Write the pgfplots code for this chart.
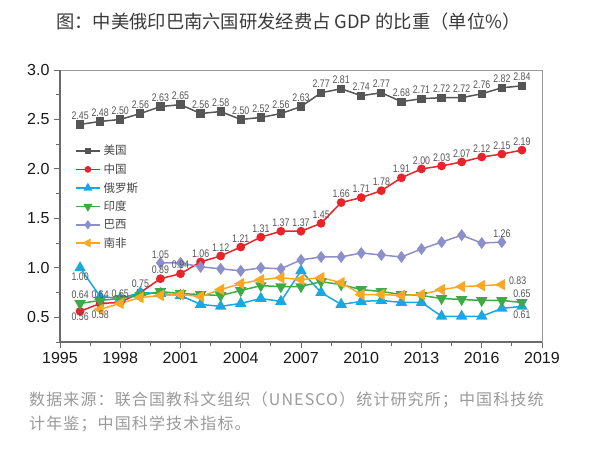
\documentclass[border=0pt]{standalone}
\usepackage{fontspec}
\usepackage{pgfplots}
\pgfplotsset{compat=1.18}
\setmainfont{Liberation Sans}
\newfontfamily\cjk{Noto Sans CJK SC}
\newfontfamily\cjknote[LetterSpace=7]{Noto Sans CJK SC}
\newfontfamily\labfontfam[FakeStretch=0.8]{Liberation Sans}
\definecolor{usgray}{HTML}{555555}
\definecolor{chred}{HTML}{E8232A}
\definecolor{rublue}{HTML}{1AA8E3}
\definecolor{ingreen}{HTML}{3DAA48}
\definecolor{brpurple}{HTML}{8C8FC9}
\definecolor{saorange}{HTML}{F8A824}
\definecolor{labgray}{HTML}{555555}
\definecolor{axisdark}{HTML}{6A6A6A}
\definecolor{axislight}{HTML}{9A9A9A}
\definecolor{titlegray}{HTML}{3A3A3A}
\definecolor{notegray}{HTML}{9A9A9A}
\pgfplotsset{
  lab/.style={point meta=y, nodes near coords,
    nodes near coords style={font=\labfontfam\fontsize{11}{12}\selectfont, text=labgray, inner sep=0.5pt, anchor=south, yshift=3.5pt,
      /pgf/number format/fixed, /pgf/number format/fixed zerofill, /pgf/number format/precision=2, /pgf/number format/assume math mode=true}},
  labbelow/.style={lab, nodes near coords style={anchor=north, yshift=-4pt}},
}
\begin{document}
\begin{tikzpicture}
\useasboundingbox (0pt,0pt) rectangle (600pt,459pt);
\fill[white] (0pt,0pt) rectangle (600pt,459pt);
\node[anchor=west, text=titlegray, font=\cjk\fontsize{18.3}{21}\selectfont, inner sep=0pt] at (56pt,437pt) {图：中美俄印巴南六国研发经费占 GDP 的比重（单位\%）};
\node[anchor=west, text=notegray, font=\cjknote\fontsize{16}{18}\selectfont, inner sep=0pt] at (29pt,59pt) {数据来源：联合国教科文组织（UNESCO）统计研究所；中国科技统};
\node[anchor=west, text=notegray, font=\cjknote\fontsize{16}{18}\selectfont, inner sep=0pt] at (29pt,35pt) {计年鉴；中国科学技术指标。};
\begin{axis}[
  at={(60pt,117pt)}, anchor=south west,
  scale only axis, width=482pt, height=272pt,
  xmin=1995, xmax=2019, ymin=0.25, ymax=3.0,
  xtick={1995,1998,2001,2004,2007,2010,2013,2016,2019},
  xticklabels={1995,1998,2001,2004,2007,2010,2013,2016,2019},
  minor xtick={1996.5,1999.5,2002.5,2005.5,2008.5,2011.5,2014.5,2017.5},
  ytick={0.5,1,1.5,2,2.5,3},
  yticklabels={0.5,1.0,1.5,2.0,2.5,3.0},
  minor ytick={0.25,0.75,1.25,1.75,2.25,2.75},
  tick align=outside, tick pos=left,
  major tick length=6pt, minor tick length=4pt,
  tick style={axisdark, line width=0.9pt},
  axis line style={axislight, line width=0.9pt},
  tick label style={font=\fontsize{16}{18}\selectfont, text=black!90},
  xticklabel style={yshift=-1pt},
  yticklabel style={xshift=-1pt},
  clip=false,
  every axis plot/.append style={line width=1.5pt},
  legend style={at={(rel axis cs:0.031,0.728)}, anchor=north west, draw=none, fill=none,
    font=\cjk\fontsize{11.5}{13}\selectfont, text=black!72, row sep=5.4pt, inner sep=0pt,
    nodes={inner xsep=3pt, inner ysep=1pt}},
  legend cell align=left,
  legend image code/.code={\draw[#1, mark repeat=2, mark phase=2, line width=1.5pt, every mark/.append style={scale=0.72}] plot coordinates {(0pt,0pt) (12pt,0pt) (24pt,0pt)};},
]
\addplot[usgray, mark=square*, mark size=3.4pt, mark options={solid, fill=usgray}] coordinates {
(1996,2.45)(1997,2.48)(1998,2.50)(1999,2.56)(2000,2.63)(2001,2.65)(2002,2.56)(2003,2.58)(2004,2.50)(2005,2.52)(2006,2.56)(2007,2.63)(2008,2.77)(2009,2.81)(2010,2.74)(2011,2.77)(2012,2.68)(2013,2.71)(2014,2.72)(2015,2.72)(2016,2.76)(2017,2.82)(2018,2.84)};
\addlegendentry{美国}
\addplot[chred, mark=*, mark size=3.6pt, mark options={solid, fill=chred}] coordinates {
(1996,0.56)(1997,0.64)(1998,0.65)(1999,0.75)(2000,0.89)(2001,0.94)(2002,1.06)(2003,1.12)(2004,1.21)(2005,1.31)(2006,1.37)(2007,1.37)(2008,1.45)(2009,1.66)(2010,1.71)(2011,1.78)(2012,1.91)(2013,2.00)(2014,2.03)(2015,2.07)(2016,2.12)(2017,2.15)(2018,2.19)};
\addlegendentry{中国}
\addplot[rublue, mark=triangle*, mark size=5.2pt, mark options={solid, fill=rublue}] coordinates {
(1996,1.00)(1997,0.71)(1998,0.69)(1999,0.75)(2000,0.74)(2001,0.72)(2002,0.63)(2003,0.61)(2004,0.64)(2005,0.69)(2006,0.66)(2007,0.97)(2008,0.75)(2009,0.63)(2010,0.66)(2011,0.67)(2012,0.65)(2013,0.65)(2014,0.51)(2015,0.51)(2016,0.51)(2017,0.59)(2018,0.61)};
\addlegendentry{俄罗斯}
\addplot[ingreen, mark=triangle*, mark size=5.2pt, mark options={solid, fill=ingreen, rotate=180}] coordinates {
(1996,0.64)(1997,0.67)(1998,0.69)(1999,0.72)(2000,0.76)(2001,0.74)(2002,0.73)(2003,0.72)(2004,0.77)(2005,0.82)(2006,0.81)(2007,0.81)(2008,0.86)(2009,0.83)(2010,0.78)(2011,0.76)(2012,0.73)(2013,0.72)(2014,0.69)(2015,0.68)(2016,0.67)(2017,0.67)(2018,0.65)};
\addlegendentry{印度}
\addplot[brpurple, mark=diamond*, mark size=4.8pt, mark options={solid, fill=brpurple}] coordinates {
(2000,1.05)(2001,1.05)(2002,1.01)(2003,0.99)(2004,0.97)(2005,1.00)(2006,0.99)(2007,1.08)(2008,1.11)(2009,1.11)(2010,1.15)(2011,1.13)(2012,1.11)(2013,1.19)(2014,1.26)(2015,1.33)(2016,1.25)(2017,1.26)};
\addlegendentry{巴西}
\addplot[saorange, mark=triangle*, mark size=5.2pt, mark options={solid, fill=saorange, rotate=90}] coordinates {
(1997,0.58)(1998,0.64)(1999,0.70)(2000,0.72)(2001,0.73)(2002,0.71)(2003,0.78)(2004,0.84)(2005,0.88)(2006,0.90)(2007,0.88)(2008,0.90)(2009,0.85)(2010,0.73)(2011,0.73)(2012,0.72)(2013,0.73)(2014,0.78)(2015,0.81)(2016,0.82)(2017,0.83)};
\addlegendentry{南非}
% labels
\addplot[draw=none, mark=none, forget plot, lab] coordinates {
(1996,2.45)(1997,2.48)(1998,2.50)(1999,2.56)(2000,2.63)(2001,2.65)(2002,2.56)(2003,2.58)(2004,2.50)(2005,2.52)(2006,2.56)(2007,2.63)(2008,2.77)(2009,2.81)(2010,2.74)(2011,2.77)(2012,2.68)(2013,2.71)(2014,2.72)(2015,2.72)(2016,2.76)(2017,2.82)(2018,2.84)};
\addplot[draw=none, mark=none, forget plot, lab] coordinates {
(1997,0.64)(1998,0.65)(1999,0.75)(2000,0.89)(2001,0.94)(2002,1.06)(2003,1.12)(2004,1.21)(2005,1.31)(2006,1.37)(2007,1.37)(2008,1.45)(2009,1.66)(2010,1.71)(2011,1.78)(2012,1.91)(2013,2.00)(2014,2.03)(2015,2.07)(2016,2.12)(2017,2.15)(2018,2.19)};
\addplot[draw=none, mark=none, forget plot, labbelow] coordinates {(1996,0.56)(1997,0.58)};
\addplot[draw=none, mark=none, forget plot, labbelow, nodes near coords style={yshift=-3pt}] coordinates {(1996,1.00)(2018,0.61)};
\addplot[draw=none, mark=none, forget plot, lab, nodes near coords style={yshift=0.5pt}] coordinates {(1996,0.64)(2018,0.65)};
\addplot[draw=none, mark=none, forget plot, lab] coordinates {(2000,1.05)(2017,1.26)};
\addplot[draw=none, mark=none, forget plot, lab, nodes near coords style={anchor=west, yshift=0pt, xshift=6pt}] coordinates {(2017,0.83)};
\draw[axisdark, line width=1.1pt] (rel axis cs:0,1) -- (rel axis cs:0,0) -- (rel axis cs:1,0);
\end{axis}
\end{tikzpicture}
\end{document}
